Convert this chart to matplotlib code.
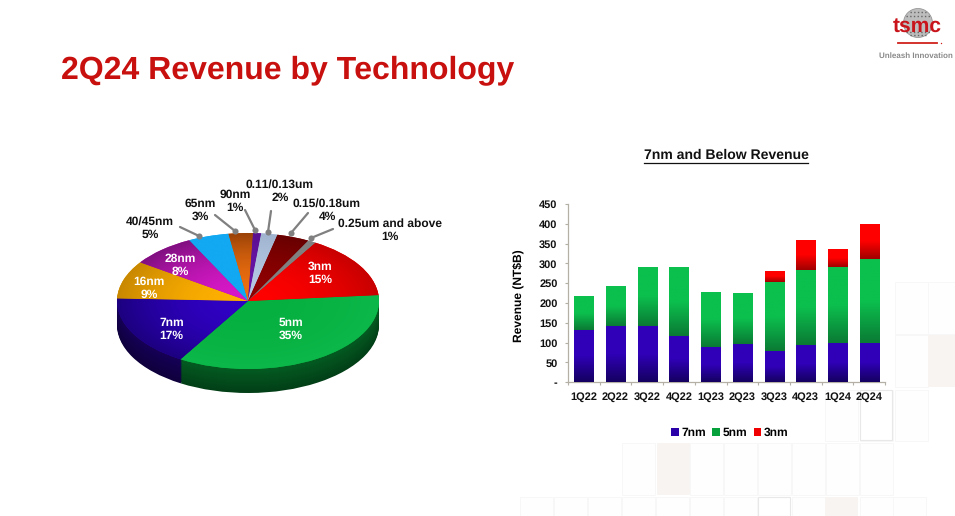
import numpy as np
import matplotlib
matplotlib.use("Agg")
import matplotlib.pyplot as plt
from matplotlib.colors import LinearSegmentedColormap, to_rgb
from matplotlib.patches import Rectangle, Ellipse

plt.rcParams['font.family'] = ['Liberation Sans', 'DejaVu Sans']
plt.rcParams['text.hinting'] = 'no_hinting'
plt.rcParams['text.hinting_factor'] = 1

# ---------- data ----------
pie_labels = ['5nm', '7nm', '16nm', '28nm', '40/45nm', '65nm', '90nm',
              '0.11/0.13um', '0.15/0.18um', '0.25um and above', '3nm']
pie_values = [35, 17, 9, 8, 5, 3, 1, 2, 4, 1, 15]
pie_colors = ['#06b040', '#2a00a8', '#f2a900', '#c010b4', '#12a8f2', '#e8640c',
              '#6a14a8', '#a9bedc', '#8a0000', '#808080', '#f80000']
pie_inner = ['#06b040', '#3000c4', '#ffb000', '#d818c8', '#12a8f2', '#f07010',
             '#6a14a8', '#b4c8e4', '#900000', '#808080', '#ff0000']
pie_outer = ['#0cb84a', '#1c0080', '#c88800', '#801080', '#12a8f2', '#9a4208',
             '#5a1090', '#a0b4d0', '#680000', '#808080', '#c80000']

quarters = ['1Q22', '2Q22', '3Q22', '4Q22', '1Q23', '2Q23', '3Q23', '4Q23', '1Q24', '2Q24']
rev_7nm = [133, 143, 141, 118, 88, 97, 78, 93, 100, 100]
rev_5nm = [85, 100, 149, 172, 140, 128, 174, 190, 191, 211]
rev_3nm = [0, 0, 0, 0, 0, 0, 28, 77, 45, 89]
yticks = [0, 50, 100, 150, 200, 250, 300, 350, 400, 450]
ytick_labels = ['-', '50', '100', '150', '200', '250', '300', '350', '400', '450']

W, H = 955, 516
fig = plt.figure(figsize=(W / 100, H / 100), dpi=100, facecolor='white')

# ---------- background tiles ----------
bg = fig.add_axes([0, 0, 1, 1], zorder=0)
bg.set_xlim(0, W); bg.set_ylim(H, 0); bg.axis('off')
edge = '#f7f7f7'
tile_rows = [(282, 52, [895, 928]),
             (335, 52, [895]),
             (390, 51, [825, 860, 895]),
             (443, 52, [622, 690, 724, 758, 792, 826, 860]),
             (497, 19, [520, 554, 588, 622, 656, 690, 724, 792, 860, 893])]
for y, h, xs in tile_rows:
    for xx in xs:
        bg.add_patch(Rectangle((xx, y), 33, h, fc='#fefefe', ec=edge, lw=0.7))
for xx, y, w, h in [(928, 335, 27, 52), (657, 443, 33, 52), (825, 497, 33, 19)]:
    bg.add_patch(Rectangle((xx, y), w, h, fc='#f8f4f1', ec='none'))
for xx, y, w, h in [(860, 390, 32, 50), (758, 497, 32, 19)]:
    bg.add_patch(Rectangle((xx, y), w, h, fc='#ffffff', ec='#e8e8e8', lw=0.8))

# ---------- title ----------
fig.text(61 / W, 1 - 70 / H, '2Q24 Revenue by Technology', color='#c8100e',
         fontsize=23.1, fontweight='bold', va='center', ha='left')

# ---------- logo ----------
bg.add_patch(Ellipse((918, 23), 29, 29, fc='#bdbdbd', ec='#8c8c8c', lw=0.5))
for yy, x0, x1 in [(12, 910, 926), (16, 906, 930), (32, 906, 930), (35, 910, 926)]:
    bg.plot([x0, x1], [yy, yy], color='#666666', lw=1.0, ls=':')
bg.text(917, 26, 'tsmc', color='#c8141a', fontsize=15, fontweight='bold',
        ha='center', va='center')
bg.plot([898, 937], [43, 43], color='#d0211c', lw=1.3)
bg.plot([941], [43], 'o', color='#d0211c', ms=1, mew=0)
bg.text(916, 56, 'Unleash Innovation', color='#8a8a8a', fontsize=5.9,
        fontweight='bold', ha='center', va='center')

# ---------- pie ----------
pie_cx, pie_cy, rx, ry, depth = 248, 301, 131, 68, 24
span = 1.5
pax = fig.add_axes([(pie_cx - rx * span) / W, 1 - (pie_cy + ry * span) / H,
                    2 * rx * span / W, 2 * ry * span / H], zorder=1)
dz = depth / ry
n_layers = 24
start = 5


def shade(c, f):
    return tuple(np.array(to_rgb(c)) * f)


for i in range(n_layers, 0, -1):
    f = 0.52 - 0.16 * (i / n_layers)
    pax.pie(pie_values, startangle=start, counterclock=False, radius=1,
            center=(0, -dz * i / n_layers),
            colors=[shade(c, f) for c in pie_colors],
            wedgeprops=dict(lw=0))
wedges, _ = pax.pie(pie_values, startangle=start, counterclock=False, radius=1,
                    colors=pie_colors, wedgeprops=dict(lw=0))
rr = np.linspace(-1, 1, 200)
X, Y = np.meshgrid(rr, rr)
R = np.clip(np.hypot(X, Y), 0, 1) ** 2
for w, c0, c1 in zip(wedges, pie_inner, pie_outer):
    cm = LinearSegmentedColormap.from_list('g', [c0, c1])
    im = pax.imshow(R, extent=[-1, 1, -1, 1], cmap=cm, vmin=0, vmax=1,
                    origin='lower', aspect='auto', zorder=5, interpolation='bilinear')
    im.set_clip_path(w)
pax.set_aspect('auto')
pax.set_xlim(-span, span)
pax.set_ylim(-span, span)
pax.axis('off')

# ---------- pie labels ----------
ov = fig.add_axes([0, 0, 1, 1], zorder=3)
ov.set_xlim(0, W); ov.set_ylim(H, 0); ov.axis('off')
inside = {'5nm': (291, 329), '7nm': (171.5, 329), '16nm': (149, 288),
          '28nm': (180.5, 265), '3nm': (320.5, 273)}
outside = {'40/45nm': (150, 228), '65nm': (200, 210), '90nm': (235, 201),
           '0.11/0.13um': (280, 191.5), '0.15/0.18um': (327, 210), '0.25um and above': (390, 230.5)}
leaders = {'40/45nm': (180, 227, 199, 236), '65nm': (215, 215, 235, 231), '90nm': (245, 210, 255, 230),
           '0.11/0.13um': (271, 211, 268, 232), '0.15/0.18um': (308, 213, 291, 233),
           '0.25um and above': (333, 229, 311, 238)}
for lab, val in zip(pie_labels, pie_values):
    txt = f'{lab}\n{val}%'
    if lab in inside:
        x, y = inside[lab]
        ov.text(x, y, txt, color='white', fontsize=8.6, fontweight='bold', ha='center',
                va='center', linespacing=1.22)
    else:
        x, y = outside[lab]
        ov.text(x, y, txt, color='#111111', fontsize=8.6, fontweight='bold', ha='center',
                va='center', linespacing=1.22)
        x0, y0, x1, y1 = leaders[lab]
        ov.plot([x0, x1], [y0, y1], color='#808080', lw=1.6, solid_capstyle='round')
        ov.plot([x1], [y1], 'o', color='#808080', ms=4.4, mew=0)

# ---------- bars ----------
ax = fig.add_axes([568 / W, 1 - 382.3 / H, 317 / W, 178.3 / H], zorder=2)
ax.patch.set_alpha(0)
x = np.arange(len(quarters))
bw = 0.6
grad = np.linspace(0, 1, 128).reshape(-1, 1)
segments = [('7nm', rev_7nm, '#2a00a8', '#140060', '#3000b8'),
            ('5nm', rev_5nm, '#06a03c', '#0a7a34', '#0cc04e'),
            ('3nm', rev_3nm, '#f00000', '#a00000', '#ff0000')]
base = np.zeros(len(quarters))
for name, vals, col, lo, hi in segments:
    vals = np.array(vals, float)
    bars = ax.bar(x, vals, bw, bottom=base, color=col, lw=0, label=name)
    cm = LinearSegmentedColormap.from_list('b', [lo, hi, hi])
    for b, v, bt, xx in zip(bars, vals, base, x):
        if v <= 0:
            continue
        im = ax.imshow(grad, extent=[xx - bw / 2, xx + bw / 2, bt, bt + v], cmap=cm,
                       origin='lower', aspect='auto', zorder=3)
        im.set_clip_path(b)
    base = base + vals
ax.set_xlim(-0.5, 9.5)
ax.set_ylim(0, 450)
ax.set_aspect('auto')
ax.set_xticks(x)
ax.set_xticklabels(quarters)
ax.set_xticks(np.arange(len(quarters) + 1) - 0.5, minor=True)
ax.set_yticks(yticks)
ax.set_yticklabels(ytick_labels)
for s in ('top', 'right'):
    ax.spines[s].set_visible(False)
for s in ('left', 'bottom'):
    ax.spines[s].set_color('#b5b0a6')
    ax.spines[s].set_linewidth(0.9)
ax.tick_params(axis='x', which='major', length=0, labelsize=7.6, pad=7, labelcolor='#111111')
ax.tick_params(axis='x', which='minor', length=2.5, color='#b5b0a6', width=0.8)
ax.tick_params(axis='y', length=2.5, color='#b5b0a6', width=0.8, labelsize=7.6, pad=5,
               labelcolor='#111111')
for t in ax.get_xticklabels() + ax.get_yticklabels():
    t.set_fontweight('bold')
ax.set_ylabel(r'Revenue (NT\$B)', fontsize=8.8, fontweight='bold')
ax.yaxis.set_label_coords((525 - 568) / 317, 0.484)
ax.legend(loc='center', bbox_to_anchor=((730 - 568) / 317, (382.3 - 433) / 178.3), ncol=3,
          frameon=False, prop=dict(size=8.8, weight='bold'), handlelength=0.6,
          handleheight=0.6, handletextpad=0.25, columnspacing=0.5)

# ---------- bar chart title ----------
ov.text(726, 155, '7nm and Below Revenue', fontsize=10.1, fontweight='bold', ha='center',
        va='center', color='#111111')
ov.plot([644, 808], [162.5, 162.5], color='#111111', lw=0.9)

fig.savefig('out.png', dpi=100)
